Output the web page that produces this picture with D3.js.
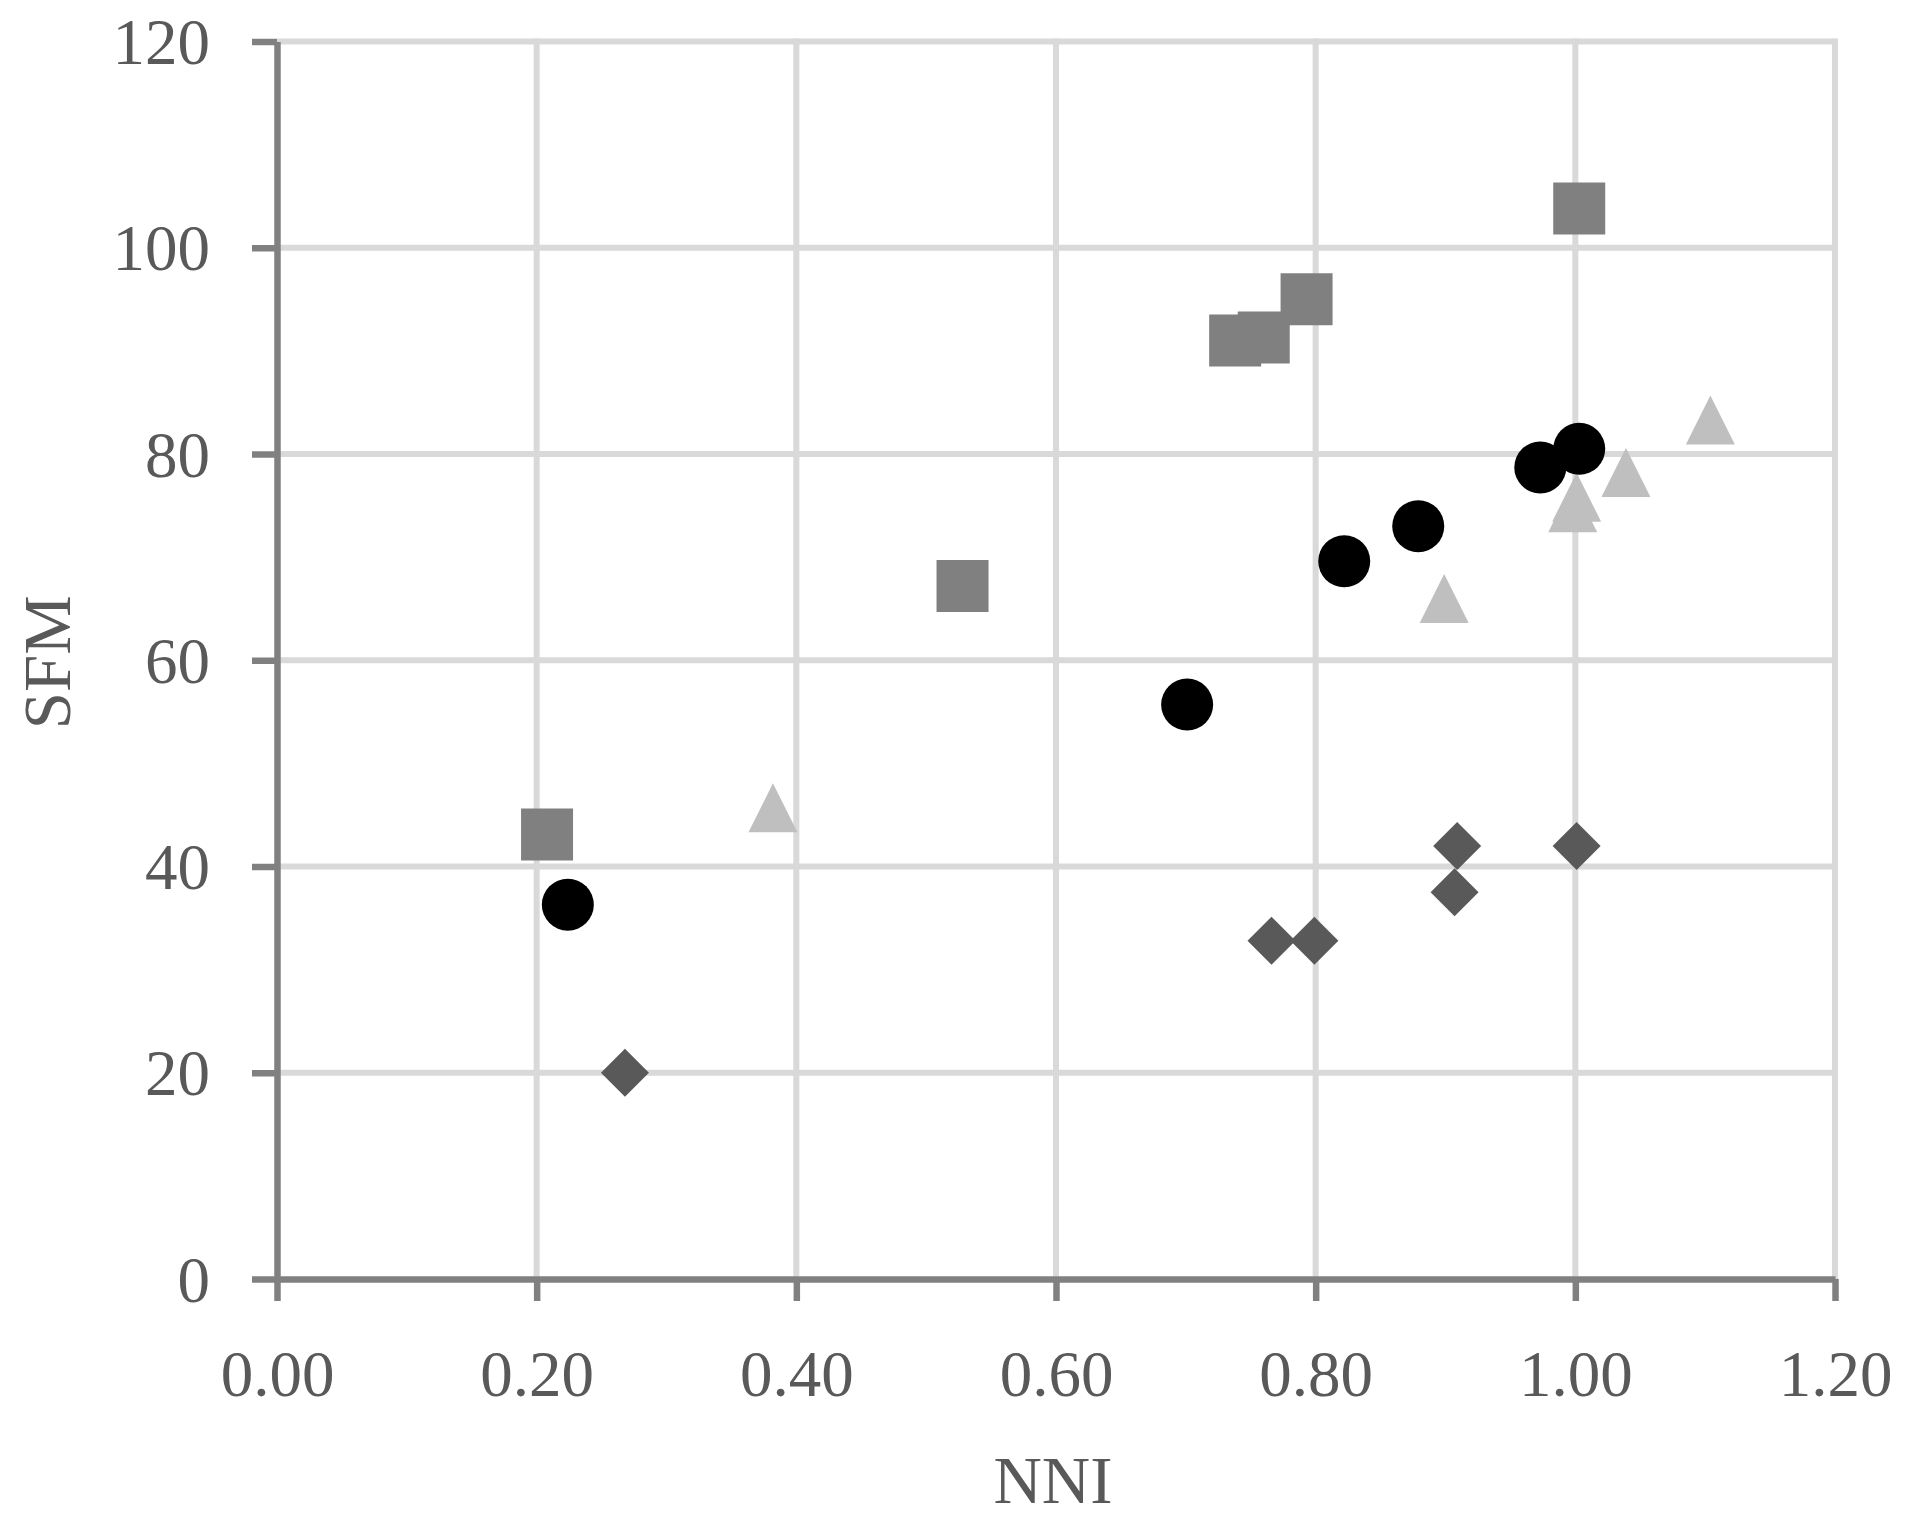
<!DOCTYPE html>
<html>
<head>
<meta charset="utf-8">
<script src="https://cdn.jsdelivr.net/npm/d3@7"></script>
<style>
  html, body { margin: 0; padding: 0; background: #fff; }
  svg { display: block; }
</style>
</head>
<body>
<div id="chart"></div>
<script>
// Values (NNI on x, SFM on y)
const circleNNI = [0.224, 0.701, 0.822, 0.879, 0.973, 1.003];
const circleSFM = [36.3, 55.7, 69.6, 73.0, 78.7, 80.5];

const squareNNI = [0.208, 0.528, 0.738, 0.760, 0.793, 1.003];
const squareSFM = [43.1, 67.2, 91.0, 91.3, 95.0, 103.8];

const triangleNNI = [0.382, 0.899, 0.998, 1.001, 1.039, 1.104];
const triangleSFM = [45.7, 66.0, 74.8, 75.8, 78.2, 83.3];

const diamondNNI = [0.268, 0.766, 0.799, 0.907, 0.909, 1.001];
const diamondSFM = [20.0, 32.8, 32.8, 37.5, 42.0, 42.0];

const xTicks = [0, 0.2, 0.4, 0.6, 0.8, 1.0, 1.2];
const yTicks = [0, 20, 40, 60, 80, 100, 120];

// Dimensions
const width = 1908;
const height = 1522;
const margin = { top: 41.5, right: 73, bottom: 243, left: 277 };

const fontFamily = '"Liberation Serif", "DejaVu Serif", serif';
const textColor = '#595959';
const axisColor = '#808080';
const gridColor = '#d9d9d9';

// Custom marker shapes centred on their bounding box
const triangleType = {
  draw(ctx, size) {
    const w = Math.sqrt(size);
    ctx.moveTo(0, -w / 2);
    ctx.lineTo(w / 2, w / 2);
    ctx.lineTo(-w / 2, w / 2);
    ctx.closePath();
  },
};
const diamondType = {
  draw(ctx, size) {
    const r = Math.sqrt(size) / 2;
    ctx.moveTo(0, -r);
    ctx.lineTo(r, 0);
    ctx.lineTo(0, r);
    ctx.lineTo(-r, 0);
    ctx.closePath();
  },
};

// Draw order: diamonds, squares, triangles, circles (circles sit on top)
const series = [
  { xs: diamondNNI, ys: diamondSFM, type: diamondType, size: 48 * 48, color: '#595959' },
  { xs: squareNNI, ys: squareSFM, type: d3.symbolSquare, size: 52 * 52, color: '#808080' },
  { xs: triangleNNI, ys: triangleSFM, type: triangleType, size: 49 * 49, color: '#bfbfbf' },
  { xs: circleNNI, ys: circleSFM, type: d3.symbolCircle, size: Math.PI * 26 * 26, color: '#000000' },
];

const svg = d3
  .select('#chart')
  .append('svg')
  .attr('width', width)
  .attr('height', height)
  .attr('viewBox', `0 0 ${width} ${height}`);

svg.append('rect').attr('width', width).attr('height', height).attr('fill', '#fff');

// Scales
const x = d3.scaleLinear().domain([0, 1.2]).range([margin.left, width - margin.right]);
const y = d3.scaleLinear().domain([0, 120]).range([height - margin.bottom, margin.top]);

// Gridlines
const grid = svg.append('g').attr('class', 'grid');
grid
  .selectAll('line.h')
  .data(yTicks.filter((d) => d > 0))
  .join('line')
  .attr('class', 'h')
  .attr('x1', x(0))
  .attr('x2', x(1.2))
  .attr('y1', (d) => y(d))
  .attr('y2', (d) => y(d))
  .attr('stroke', gridColor)
  .attr('stroke-width', 6);
grid
  .selectAll('line.v')
  .data(xTicks.filter((d) => d > 0))
  .join('line')
  .attr('class', 'v')
  .attr('x1', (d) => x(d))
  .attr('x2', (d) => x(d))
  .attr('y1', y(120) - 3)
  .attr('y2', y(0))
  .attr('stroke', gridColor)
  .attr('stroke-width', 6);

// Axes
const xAxis = svg
  .append('g')
  .attr('transform', `translate(0, ${y(0)})`)
  .call(
    d3.axisBottom(x)
      .tickValues(xTicks)
      .tickSize(22)
      .tickSizeOuter(0)
      .tickFormat(d3.format('.2f'))
  );

const yAxis = svg
  .append('g')
  .attr('transform', `translate(${x(0)}, 0)`)
  .call(
    d3.axisLeft(y)
      .tickValues(yTicks)
      .tickSize(25)
      .tickSizeOuter(0)
      .tickFormat(d3.format('d'))
  );

[xAxis, yAxis].forEach((ax) => {
  ax.select('.domain').attr('stroke', axisColor).attr('stroke-width', 6.5);
  ax.selectAll('.tick line').attr('stroke', axisColor).attr('stroke-width', 6.5);
  ax.selectAll('.tick text')
    .attr('fill', textColor)
    .style('font-family', fontFamily)
    .style('font-size', '65px');
});

xAxis.selectAll('.tick text').attr('y', 117).attr('dy', 0);
yAxis.selectAll('.tick text').attr('x', -67).attr('dy', '0.34em');

// Markers
series.forEach((s) => {
  const sym = d3.symbol().type(s.type).size(s.size);
  svg
    .append('g')
    .selectAll('path')
    .data(s.xs.map((v, i) => [v, s.ys[i]]))
    .join('path')
    .attr('transform', (d) => `translate(${x(d[0])}, ${y(d[1])})`)
    .attr('d', sym)
    .attr('fill', s.color);
});

// Axis titles
svg
  .append('text')
  .attr('x', (x(0) + x(1.2)) / 2 - 3)
  .attr('y', 1503)
  .attr('text-anchor', 'middle')
  .attr('fill', textColor)
  .style('font-family', fontFamily)
  .style('font-size', '67px')
  .text('NNI');

svg
  .append('text')
  .attr('transform', `translate(70, ${(y(0) + y(120)) / 2 + 2}) rotate(-90)`)
  .attr('text-anchor', 'middle')
  .attr('fill', textColor)
  .style('font-family', fontFamily)
  .style('font-size', '67px')
  .text('SFM');
</script>
</body>
</html>
